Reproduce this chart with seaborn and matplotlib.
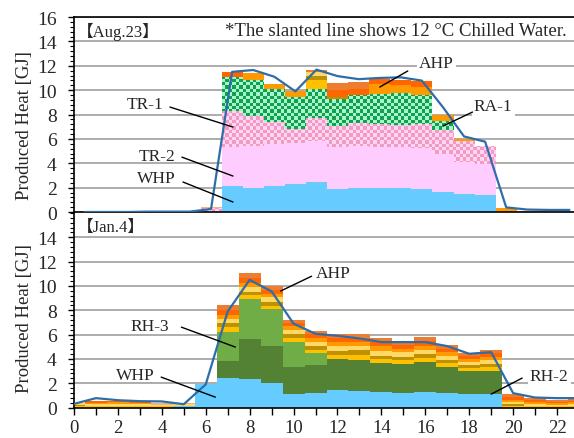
import numpy as np
import matplotlib
matplotlib.use("Agg")
import matplotlib.pyplot as plt
import matplotlib.colors as mcolors
from matplotlib.path import Path
from matplotlib.ticker import MultipleLocator
import seaborn as sns

hours = list(range(24))

# ---------------- Aug.23 (cooling) : produced heat per unit [GJ] ----------------
aug_whp = [0, 0, 0, 0, 0, 0, 0, 2.15, 2.0, 2.12, 2.3, 2.45, 1.9, 2.0, 1.95, 1.95, 1.92, 1.68, 1.47, 1.38, 0, 0, 0, 0.12]
aug_tr2 = [0, 0, 0, 0, 0, 0, 0, 3.15, 3.38, 3.45, 3.33, 3.39, 3.4, 3.4, 3.4, 3.35, 3.33, 3.08, 2.63, 2.52, 0, 0, 0, 0]
aug_tr1 = [0, 0, 0, 0, 0, 0, 0.3, 3.0, 2.5, 1.81, 1.17, 1.86, 1.75, 1.9, 1.88, 1.85, 1.97, 1.97, 1.75, 1.55, 0, 0, 0, 0]
aug_ra1 = [0, 0, 0, 0, 0, 0, 0, 2.8, 2.94, 2.69, 2.66, 2.42, 2.25, 2.27, 2.49, 2.6, 2.35, 0.76, 0, 0, 0, 0, 0, 0]
aug_ahp = {
    "AHP-1": [0, 0, 0, 0, 0, 0, 0, 0, 0, 0, 0, 0.68, 0, 0, 0, 0, 0, 0, 0, 0, 0, 0, 0, 0],
    "AHP-2": [0, 0, 0, 0, 0, 0, 0, 0, 0, 0, 0, 0.34, 0.15, 0, 0, 0, 0, 0, 0, 0, 0, 0, 0, 0],
    "AHP-3": [0, 0, 0, 0, 0, 0, 0, 0, 0, 0, 0, 0.33, 0, 0, 0, 0, 0, 0, 0, 0, 0, 0, 0, 0],
    "AHP-4": [0, 0, 0, 0, 0, 0, 0, 0, 0.58, 0.47, 0.46, 0, 0, 0, 0.8, 0.65, 0.65, 0.47, 0.12, 0, 0.3, 0, 0, 0],
    "AHP-5": [0, 0, 0, 0, 0, 0, 0, 0.37, 0, 0, 0, 0, 0.6, 0.5, 0.4, 0.4, 0.55, 0, 0, 0, 0, 0, 0, 0],
    "AHP-6": [0, 0, 0, 0, 0, 0, 0, 0, 0, 0, 0, 0.17, 0.5, 0.62, 0, 0, 0, 0, 0, 0, 0, 0, 0, 0],
    "AHP-7": [0.08, 0.08, 0, 0, 0, 0, 0.12, 0, 0, 0, 0, 0, 0, 0, 0, 0, 0, 0, 0, 0, 0.05, 0.12, 0.12, 0],
}
aug_chilled = [0, 0, 0, 0.03, 0.03, 0.03, 0.25, 11.5, 11.65, 11.1, 9.9, 11.68, 11.15, 10.9, 11.0, 11.05,
               10.78, 8.6, 6.2, 5.77, 0.38, 0.2, 0.17, 0.17]

# ---------------- Jan.4 (heating) : produced heat per unit [GJ] ----------------
jan_whp = [0, 0, 0, 0, 0, 0.15, 1.9, 2.42, 2.34, 2.0, 1.1, 1.18, 1.4, 1.37, 1.24, 1.17, 1.27, 1.16, 1.1, 1.1, 0, 0, 0, 0]
jan_rh2 = [0, 0, 0, 0, 0, 0, 0, 1.43, 3.29, 3.08, 2.27, 2.31, 2.55, 2.55, 2.4, 2.38, 2.51, 2.19, 1.92, 1.92, 0, 0, 0, 0]
jan_rh3 = [0, 0, 0, 0, 0, 0, 0, 2.33, 3.3, 3.02, 2.04, 0.96, 0, 0, 0, 0, 0, 0, 0, 0, 0, 0, 0, 0]
jan_ahp = {
    "AHP-1": [0.12, 0.15, 0.15, 0.14, 0.1, 0, 0, 0.41, 0.33, 0.27, 0.27, 0.3, 0.35, 0.36, 0.36, 0.33, 0.3, 0.3, 0.25, 0.3, 0.15, 0.12, 0.12, 0.12],
    "AHP-2": [0.08, 0, 0, 0, 0, 0, 0, 0.36, 0.27, 0.33, 0.36, 0.3, 0.38, 0.41, 0.27, 0.3, 0.33, 0.27, 0.22, 0.27, 0.1, 0, 0, 0],
    "AHP-3": [0.15, 0.12, 0.13, 0.12, 0.13, 0.1, 0, 0.33, 0.36, 0.36, 0.36, 0.35, 0.4, 0.41, 0.41, 0.36, 0.33, 0.33, 0.27, 0.3, 0.2, 0.15, 0.12, 0.15],
    "AHP-4": [0, 0.14, 0.14, 0.13, 0, 0, 0, 0.33, 0.36, 0.27, 0.27, 0.3, 0.3, 0.27, 0.41, 0.3, 0.36, 0.3, 0.25, 0.27, 0.2, 0.15, 0.12, 0.15],
    "AHP-5": [0, 0.14, 0.12, 0.13, 0, 0, 0, 0.44, 0.38, 0.33, 0.28, 0.32, 0.33, 0.33, 0.27, 0.3, 0.33, 0.3, 0.25, 0.3, 0.2, 0.2, 0.13, 0.15],
    "AHP-6": [0, 0, 0, 0, 0, 0, 0, 0.35, 0.44, 0.31, 0.25, 0.28, 0.33, 0.34, 0.33, 0.28, 0.34, 0.29, 0.24, 0.27, 0.25, 0.2, 0.13, 0.18],
    "AHP-7": [0, 0, 0, 0, 0.1, 0.1, 0, 0, 0, 0, 0, 0, 0, 0, 0, 0, 0, 0, 0, 0, 0, 0, 0, 0],
}
jan_hot = [0.3, 0.77, 0.6, 0.52, 0.5, 0.27, 1.9, 7.9, 10.5, 9.55, 6.9, 6.06, 5.9, 5.68, 5.38, 5.38,
           5.38, 5.05, 4.42, 4.55, 1.18, 0.82, 0.77, 0.77]

# ---------------- styling ----------------
sns.set_theme(style="white")
plt.rcParams["font.family"] = ["Liberation Serif", "Noto Sans CJK JP"]
plt.rcParams["axes.unicode_minus"] = False

C_WHP = "#66CCFF"
C_TR2 = "#FFCCFF"
C_RH2 = "#548235"
C_RH3 = "#70AD47"
C_AHP = {"AHP-1": "#FFC000", "AHP-2": "#BF9000", "AHP-3": "#FFD966", "AHP-4": "#FF9900",
         "AHP-5": "#FF6600", "AHP-6": "#ED7D31", "AHP-7": "#F4B183"}
C_LINE = "#2E6DA8"
GRID = "#A6A6A6"

W, H = 574, 439
fig = plt.figure(figsize=(W / 100, H / 100), dpi=100)
ax_top = fig.add_axes([74 / W, 1 - 213 / H, 506 / W, 195 / H])
ax_bot = fig.add_axes([74 / W, 1 - 408.5 / H, 505 / W, 194.5 / H])


def stack(ax, layers, colors):
    base = np.zeros(len(hours))
    out = []
    for vals, col in zip(layers, colors):
        v = np.asarray(vals, float)
        bc = ax.bar(hours, v, width=1.0, bottom=base, color=col, linewidth=0, zorder=2)
        out.append(bc)
        base = base + v
    return out


def checker(ax, bars, c1, c2, ax_px, cell=3.45):
    paths = [p.get_path().transformed(p.get_patch_transform())
             for p in bars.patches if p.get_height() > 0]
    clip = Path.make_compound_path(*paths)
    xl, yl = ax.get_xlim(), ax.get_ylim()
    nx, ny = int(round(ax_px[0] / cell)), int(round(ax_px[1] / cell))
    ii, jj = np.indices((ny, nx))
    mask = ((ii + jj) % 2 == 0)[..., None]
    img = np.where(mask, np.array(mcolors.to_rgb(c1)), np.array(mcolors.to_rgb(c2)))
    im = ax.imshow(img, extent=(xl[0], xl[1], yl[0], yl[1]), origin="lower", aspect="auto",
                   interpolation="nearest", zorder=2.1)
    im.set_clip_path(clip, ax.transData)
    ax.set_xlim(xl)
    ax.set_ylim(yl)


def frame(ax):
    ax.set_ylim(0, 16)
    ax.yaxis.set_major_locator(MultipleLocator(2))
    ax.yaxis.set_minor_locator(MultipleLocator(0.4))
    ax.yaxis.grid(True, which="major", color=GRID, lw=1.3)
    ax.xaxis.grid(False)
    ax.set_axisbelow(True)
    ax.tick_params(axis="y", which="major", direction="out", length=4.5, width=1, color="black",
                   labelsize=14, pad=8, left=True)
    ax.tick_params(axis="y", which="minor", direction="out", length=2.8, width=0.8, color="black",
                   left=True)
    for s in ("left", "bottom"):
        ax.spines[s].set_color("black")
        ax.spines[s].set_linewidth(1.2)
    ax.spines["right"].set_visible(False)
    ax.set_facecolor("white")


# ---------------- Aug.23 panel ----------------
ax = ax_top
ax.set_xlim(-0.5, 23.5)
frame(ax)
ahp_keys = list(aug_ahp)
bars = stack(ax, [aug_whp, aug_tr2, aug_tr1, aug_ra1] + [aug_ahp[k] for k in ahp_keys],
             [C_WHP, C_TR2, "#FFD5F4", "#A8F5CC"] + [C_AHP[k] for k in ahp_keys])
checker(ax, bars[2], "#F29AC2", "#FFD5F4", (506, 195))
checker(ax, bars[3], "#10A050", "#A8F5CC", (506, 195))
sns.lineplot(x=hours, y=aug_chilled, ax=ax, color=C_LINE, lw=1.6, zorder=4)
ax.set_xlim(-0.5, 23.5)
ax.set_ylim(0, 16)
ax.spines["top"].set_color("black")
ax.spines["top"].set_linewidth(1.2)
ax.tick_params(axis="x", bottom=False, labelbottom=False)
ax.set_ylabel("Produced Heat [GJ]", fontsize=13.5)
ax.yaxis.set_label_coords(-0.082, 0.45)

ax.text(0.006, 0.928, "【Aug.23】", transform=ax.transAxes, fontsize=12, ha="left", va="center", zorder=6)
ax.text(0.974, 0.93, "*The slanted line shows 12 °C Chilled Water.", transform=ax.transAxes,
        fontsize=13.5, ha="right", va="center", zorder=6)

box = dict(facecolor="white", edgecolor="none", pad=1.5)
callouts_top = [
    ("TR-1", (2.86, 8.86), (4.05, 8.61), (7.04, 6.97), False),
    ("TR-2", (3.43, 4.63), (4.62, 4.5), (7.04, 2.95), False),
    ("WHP", (3.43, 2.79), (4.67, 2.46), (7.04, 0.82), False),
    ("AHP", (16.7, 12.26), (15.33, 11.57), (14.0, 10.25), True),
    ("RA-1", (19.38, 8.72), (18.4, 8.2), (17.0, 7.05), True),
]
for label, tpos, p0, p1, bg in callouts_top:
    ax.text(*tpos, label, fontsize=12.5, ha="center", va="center", zorder=5,
            bbox=box if bg else None)
    ax.plot([p0[0], p1[0]], [p0[1], p1[1]], color="black", lw=1.0, zorder=5)

# ---------------- Jan.4 panel ----------------
ax = ax_bot
ax.set_xlim(0, 23)
frame(ax)
ahp_keys = list(jan_ahp)
stack(ax, [jan_whp, jan_rh2, jan_rh3] + [jan_ahp[k] for k in ahp_keys],
      [C_WHP, C_RH2, C_RH3] + [C_AHP[k] for k in ahp_keys])
sns.lineplot(x=hours, y=jan_hot, ax=ax, color=C_LINE, lw=1.6, zorder=4)
ax.set_xlim(0, 23)
ax.set_ylim(0, 16)
ax.set_yticks(range(0, 15, 2))
ax.spines["top"].set_visible(False)
ax.xaxis.set_major_locator(MultipleLocator(2))
ax.xaxis.set_minor_locator(MultipleLocator(1))
ax.tick_params(axis="x", which="major", direction="out", length=5, width=1, color="black",
               labelsize=13.5, pad=3, bottom=True)
ax.tick_params(axis="x", which="minor", direction="out", length=5, width=1, color="black", bottom=True)
ax.set_ylabel("Produced Heat [GJ]", fontsize=13.5)
ax.yaxis.set_label_coords(-0.082, 0.46)

ax.text(0.006, 0.928, "【Jan.4】", transform=ax.transAxes, fontsize=12, ha="left", va="center", zorder=6)

callouts_bot = [
    ("RH-3", (3.46, 6.7), (4.89, 6.61), (7.35, 4.97), False),
    ("WHP", (2.81, 2.66), (3.97, 2.5), (6.44, 0.85), False),
    ("AHP", (11.8, 11.06), (10.82, 10.8), (9.41, 9.58), False),
    ("RH-2", (21.64, 2.62), (20.41, 2.42), (19.0, 1.1), True),
]
for label, tpos, p0, p1, bg in callouts_bot:
    ax.text(*tpos, label, fontsize=12.5, ha="center", va="center", zorder=5,
            bbox=box if bg else None)
    ax.plot([p0[0], p1[0]], [p0[1], p1[1]], color="black", lw=1.0, zorder=5)

fig.savefig("out.png", dpi=100)
